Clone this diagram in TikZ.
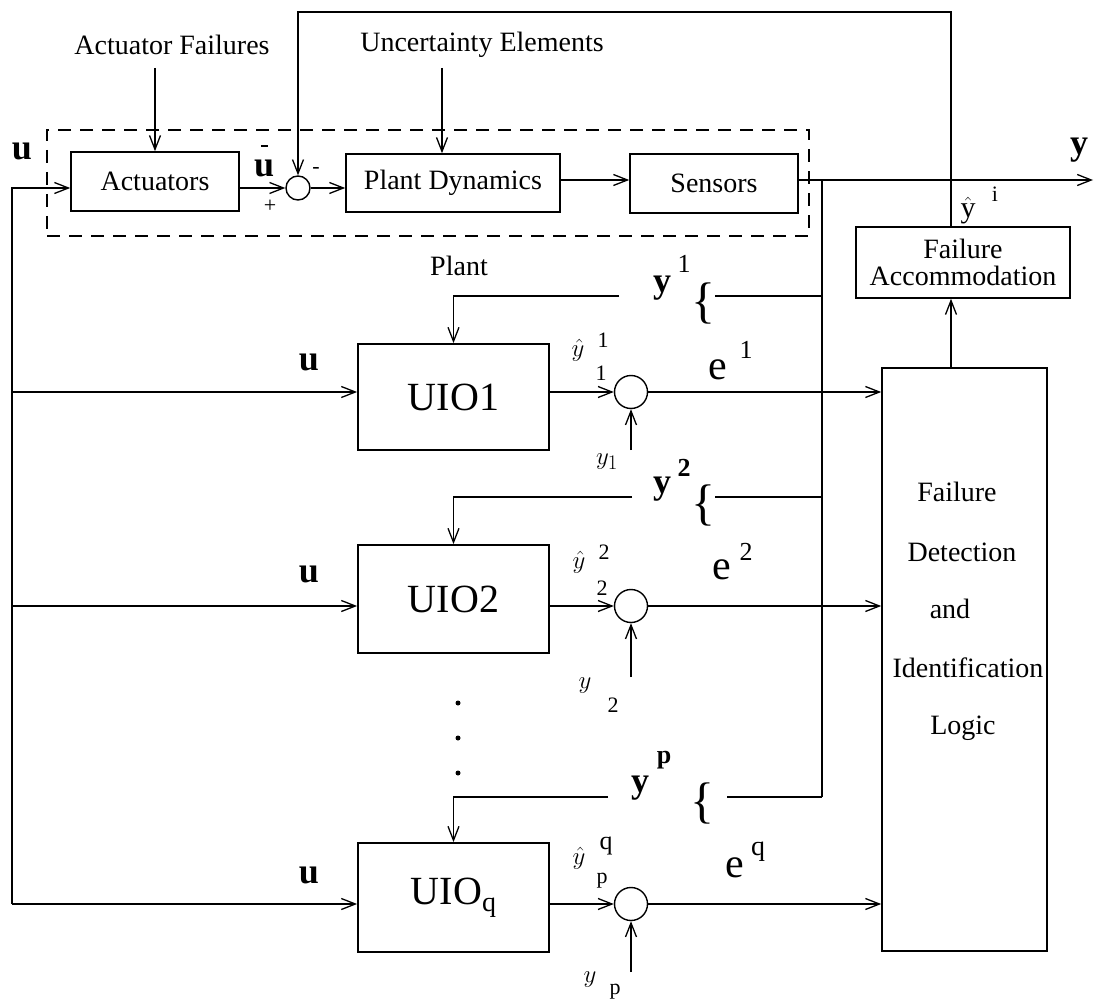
\documentclass[tikz,border=0pt]{standalone}
\usepackage{fontspec}
\setmainfont{Liberation Serif}
\usetikzlibrary{arrows.meta}
\begin{document}
\begin{tikzpicture}[x=1pt,y=-1pt,
  line width=1.4pt,
  >={Straight Barb[length=14pt,width=11pt,line width=1.3pt]},
  blk/.style={draw, line width=1.6pt, inner sep=0pt, font=\fontsize{28}{30}\selectfont},
  uio/.style={draw, line width=1.8pt, inner sep=0pt, minimum width=191pt, font=\fontsize{40}{42}\selectfont},
  sumc/.style={draw, circle, minimum size=33pt, inner sep=0pt, line width=1.4pt},
  sumz/.style={draw, circle, minimum size=24pt, inner sep=0pt, line width=1.4pt},
  lbl/.style={inner sep=0pt, font=\fontsize{28}{30}\selectfont},
  bld/.style={inner sep=0pt, font=\fontsize{36}{38}\selectfont\bfseries},
  bldb/.style={inner sep=0pt, font=\fontsize{26}{28}\selectfont\bfseries},
  sml/.style={inner sep=0pt, font=\fontsize{22}{24}\selectfont},
  hat/.style={inner sep=0pt, font=\fontsize{30}{32}\selectfont},
  elbl/.style={inner sep=0pt, font=\fontsize{42}{44}\selectfont},
  brc/.style={inner sep=0pt, font=\fontsize{50}{52}\selectfont},
  dotn/.style={circle, fill, inner sep=0pt, minimum size=5pt},
]
\useasboundingbox (0,0) rectangle (1095,1003);
\fill[white] (0,0) rectangle (1095,1003);

% ---- top plant section
\node[draw, dash pattern=on 13pt off 9pt, line width=1.4pt, minimum width=762pt, minimum height=106pt, inner sep=0pt] (dbox) at (428,183) {};
\node[blk, minimum width=168pt, minimum height=59pt] (act) at (155,181.5) {Actuators};
\node[sumz] (s0) at (298,188) {};
\node[blk, minimum width=214pt, minimum height=58pt] (pd) at (453,183) {Plant Dynamics};
\node[blk, minimum width=168pt, minimum height=59pt] (sen) at (714,183.5) {Sensors};

\node[lbl] (af) at (172,45) {Actuator Failures};
\node[lbl] (ue) at (482,45) {Uncertainty Elements};
\coordinate (afs) at (155,68);
\coordinate (ues) at (442,68);
\draw[->] (afs) -- (afs |- act.north);
\draw[->] (ues) -- (ues |- pd.north);

\node[bld] (u0) at (22,151) {u};
\node[bld, anchor=base] (ubar) at (261,177) {u\hspace{-13.5pt}\raisebox{30pt}{\rule{7pt}{2.4pt}}\hspace{6.5pt}};
\node[sml] (plus) at (270,206) {+};
\node[sml] (minus) at (316,170) {-};
\node[bld] (ylab) at (1079,150) {y};

% ---- right blocks
\node[blk, minimum width=214pt, minimum height=71pt, align=center, font=\fontsize{28}{27}\selectfont] (fa) at (963,262.5) {Failure\\Accommodation};
\node[blk, minimum width=165pt, minimum height=583pt] (fdi) at (964.5,659.5) {};
\node[lbl] (f1) at (957,492) {Failure};
\node[lbl] (f2) at (962,552) {Detection};
\node[lbl] (f3) at (950,609) {and};
\node[lbl] (f4) at (968,668) {Identification};
\node[lbl] (f5) at (963,728) {Logic};
\node[hat] (yhi) at (968,211) {$\hat{\hbox{y}}$};
\node[sml] (yhis) at (995,194) {i};

% ---- UIOs
\node[uio, minimum height=106pt] (u1) at (453.5,397) {UIO1};
\node[uio, minimum height=108pt] (u2) at (453.5,599) {UIO2};
\node[uio, minimum height=109pt] (uq) at (453.5,897.5) {UIO\raisebox{-7pt}{\fontsize{28}{30}\selectfont q}};
\node[sumc] (s1) at (631,392) {};
\node[sumc] (s2) at (631,606) {};
\node[sumc] (sq) at (631,904) {};

\node[bld] (u1l) at (309,362) {u};
\node[bld] (u2l) at (309,574) {u};
\node[bld] (uql) at (309,875) {u};
\node[lbl] (plant) at (459,266) {Plant};

% y-hat labels
\node[hat] (yh1) at (578,350) {$\hat{y}$};
\node[sml] (yh1a) at (603,340) {1};
\node[sml] (yh1b) at (601,373) {1};
\node[hat] (yh2) at (579,562) {$\hat{y}$};
\node[sml] (yh2a) at (604,552) {2};
\node[sml] (yh2b) at (602,588) {2};
\node[hat] (yhq) at (579,858) {$\hat{y}$};
\node[sml, font=\fontsize{26}{28}\selectfont] (yhqa) at (606,846) {q};
\node[sml] (yhqb) at (602,881) {p};

% measured y labels
\node[hat] (m1l) at (607,462) {$y_1$};
\node[hat] (m2l) at (585,686) {$y$};
\node[sml] (m2s) at (613,705) {2};
\node[hat] (mql) at (590,980) {$y$};
\node[sml] (mqs) at (615,992) {p};

% e labels
\node[elbl] (e1) at (718,370) {e};
\node[sml, font=\fontsize{26}{28}\selectfont] (e1s) at (746,350) {1};
\node[elbl] (e2) at (722,570) {e};
\node[sml, font=\fontsize{26}{28}\selectfont] (e2s) at (746,552) {2};
\node[elbl] (eq) at (735,868) {e};
\node[sml, font=\fontsize{28}{30}\selectfont] (eqs) at (758,852) {q};

% y^k labels and braces
\node[bld] (y1) at (662,288) {y};
\node[sml, font=\fontsize{26}{28}\selectfont] (y1s) at (684,264) {1};
\node[brc] (b1) at (703,303) {\{};
\node[bld] (y2) at (662,489) {y};
\node[bldb] (y2s) at (684,468) {2};
\node[brc] (b2) at (703,505) {\{};
\node[bld] (yp) at (640,788) {y};
\node[bldb] (yps) at (664,760) {p};
\node[brc] (bp) at (702,803) {\{};

% dots
\node[dotn] (d1) at (458,703) {};
\node[dotn] (d2) at (458,738) {};
\node[dotn] (d3) at (458,773) {};

% ---- connectors: top chain
\coordinate (lb0) at (12,188);
\coordinate (lb1) at (12,392);
\coordinate (lb2) at (12,606);
\coordinate (lb3) at (12,904);
\draw[->] (lb3) -- (lb0) -- (lb0 -| act.west);
\draw[->] (lb1) -- (lb1 -| u1.west);
\draw[->] (lb2) -- (lb2 -| u2.west);
\draw[->] (lb3) -- (lb3 -| uq.west);
\draw[->] (act.east |- s0) -- (s0.west);
\draw[->] (s0.east) -- (s0.east -| pd.west);
\coordinate (yo) at (1093,180);
\draw[->] (pd.east |- yo) -- (sen.west |- yo);
\draw[->] (sen.east |- yo) -- (yo);

% bus from sensor output
\coordinate (bt) at (822,180);
\coordinate (bb) at (822,797);
\draw (bt) -- (bb);
\coordinate (r1r) at (715,296);
\coordinate (r1l) at (619,296);
\coordinate (r2r) at (715,497);
\coordinate (r2l) at (632,497);
\coordinate (rpr) at (727,797);
\coordinate (rpl) at (608,797);
\draw (bt |- r1r) -- (r1r);
\draw (bt |- r2r) -- (r2r);
\draw (bb) -- (rpr);
\draw[->] (r1l) -- (r1l -| u1.north) -- (u1.north);
\draw[->] (r2l) -- (r2l -| u2.north) -- (u2.north);
\draw[->] (rpl) -- (rpl -| uq.north) -- (uq.north);

% UIO outputs, residuals
\draw[->] (u1.east |- s1) -- (s1.west);
\draw[->] (u2.east |- s2) -- (s2.west);
\draw[->] (uq.east |- sq) -- (sq.west);
\coordinate (m1) at (631,450);
\coordinate (m2) at (631,677);
\coordinate (mq) at (631,972);
\draw[->] (m1) -- (s1.south);
\draw[->] (m2) -- (s2.south);
\draw[->] (mq) -- (sq.south);
\draw[->] (s1.east) -- (s1.east -| fdi.west);
\draw[->] (s2.east) -- (s2.east -| fdi.west);
\draw[->] (sq.east) -- (sq.east -| fdi.west);

% FDI -> FA and feedback
\coordinate (fbx) at (951,12);
\draw[->] (fdi.north -| fbx) -- (fa.south -| fbx);
\draw[->] (fa.north -| fbx) -- (fbx) -- (fbx -| s0) -- (s0.north);
\end{tikzpicture}
\end{document}
